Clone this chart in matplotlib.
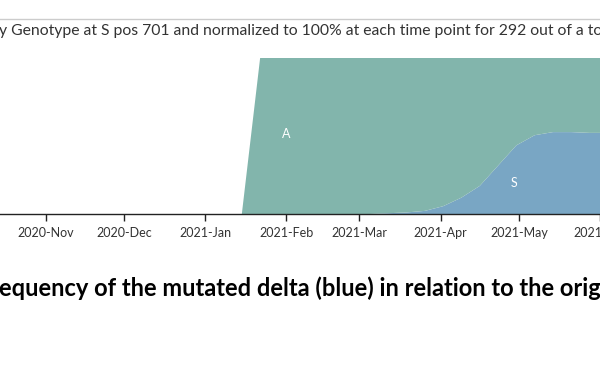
import matplotlib.pyplot as plt
import matplotlib.dates as mdates
import numpy as np
import pandas as pd

# weekly time points (frequency in %, normalized per time point)
dates = pd.to_datetime([
    '2021-01-15', '2021-01-22', '2021-01-29', '2021-02-05', '2021-02-12',
    '2021-02-19', '2021-02-26', '2021-03-05', '2021-03-12', '2021-03-19',
    '2021-03-26', '2021-04-02', '2021-04-09', '2021-04-16', '2021-04-23',
    '2021-04-30', '2021-05-07', '2021-05-14', '2021-05-21', '2021-05-28',
    '2021-06-04',
])
total = [0, 100, 100, 100, 100, 100, 100, 100, 100, 100, 100,
         100, 100, 100, 100, 100, 100, 100, 100, 100, 100]
freq_S = [0, 0, 0, 0, 0, 0, 0, 0, 0.5, 1, 2,
          5, 10.5, 18, 31, 44, 50.5, 52.5, 52.5, 52, 52]
freq_A = [t - s for t, s in zip(total, freq_S)]

month_ticks = pd.to_datetime(['2020-11-01', '2020-12-01', '2021-01-01', '2021-02-01',
                              '2021-03-01', '2021-04-01', '2021-05-01', '2021-06-01'])
month_labels = ['2020-Nov', '2020-Dec', '2021-Jan', '2021-Feb',
                '2021-Mar', '2021-Apr', '2021-May', '2021-Jun']

title_txt = 'y Genotype at S pos 701 and normalized to 100% at each time point for 292 out of a to'
caption_txt = 'equency of the mutated delta (blue) in relation to the origi'

W, H = 600, 373
fig = plt.figure(figsize=(6, 3.73), dpi=100)
fig.patch.set_facecolor('white')

def fx(px):
    return px / W

def fy(py):
    return 1 - py / H

ax = fig.add_axes([0, fy(214), 1, (214 - 58) / H])
ax.stackplot(dates, freq_S, freq_A, colors=['#79a6c4', '#82b5ac'], linewidth=0)
ax.set_ylim(0, 100)
ax.set_xlim(pd.Timestamp('2020-10-14 12:00'), pd.Timestamp('2021-05-31 06:00'))
ax.set_xticks(month_ticks)
ax.set_xticklabels(month_labels, fontfamily='Lato', fontsize=9, color='#333333')
ax.tick_params(axis='x', length=5, width=1, color='#222222', pad=4)
ax.set_yticks([])
for s in ['top', 'left', 'right']:
    ax.spines[s].set_visible(False)
ax.spines['bottom'].set_color('#222222')
ax.spines['bottom'].set_linewidth(1)

ax.text(pd.Timestamp('2021-02-01'), 51, 'A', color='white', fontsize=9,
        fontfamily='Lato', ha='center', va='center')
ax.text(pd.Timestamp('2021-04-29'), 20, 'S', color='white', fontsize=9,
        fontfamily='Lato', ha='center', va='center')

# top border line and cut-off title
fig.add_artist(plt.Line2D([0, 1], [fy(19), fy(19)], transform=fig.transFigure,
                          color='#cccccc', linewidth=1))
fig.text(fx(-1), fy(31), title_txt, fontfamily='Lato', fontsize=11.3,
         color='#333333', ha='left', va='center')

# caption below chart
fig.text(fx(-1), fy(288), caption_txt, fontfamily='Lato', fontsize=17,
         fontweight='bold', color='black', ha='left', va='center')

fig.savefig('out.png', dpi=100)
